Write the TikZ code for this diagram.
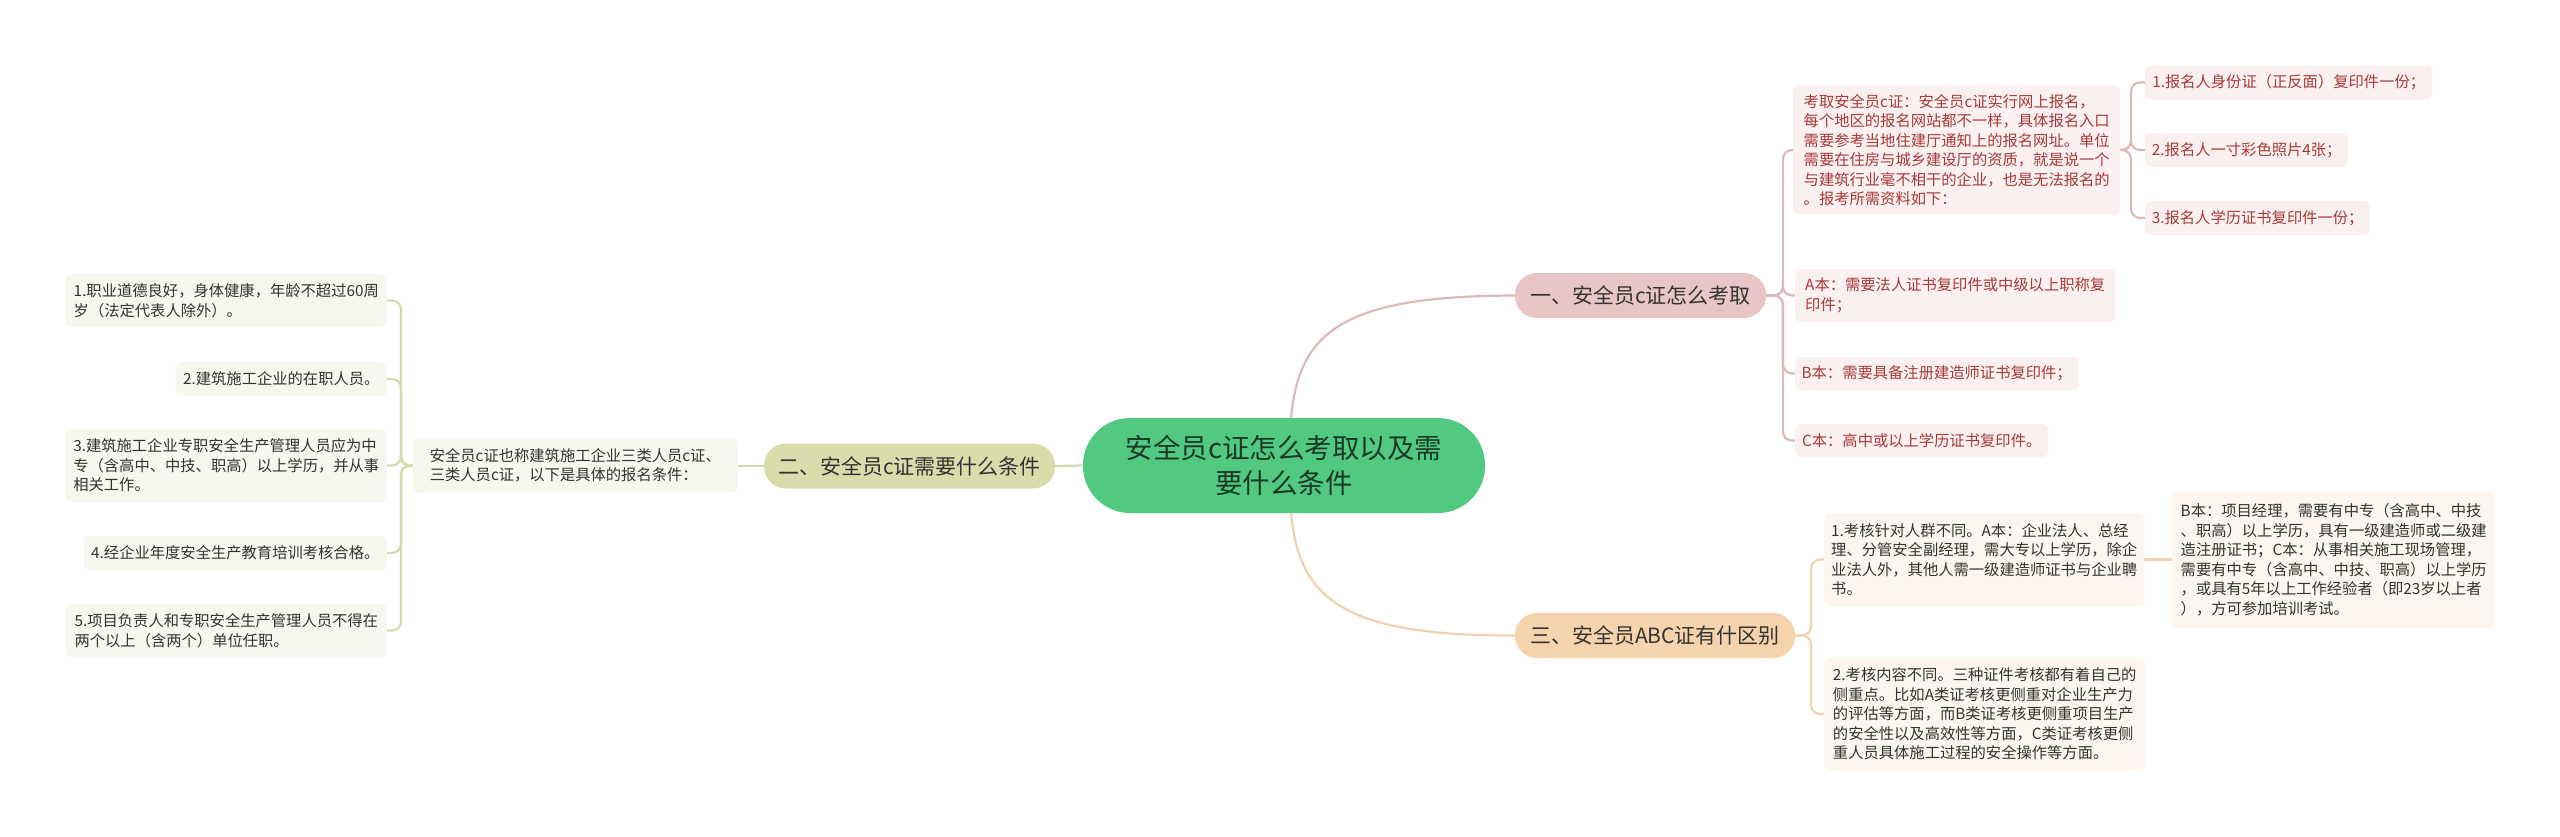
\documentclass[tikz,border=0pt]{standalone}
\usepackage{fontspec}
\newfontfamily\cjk{Noto Sans CJK SC}
\usetikzlibrary{backgrounds,calc}
\definecolor{rootbg}{HTML}{52C981}
\definecolor{roottx}{HTML}{1B3A26}
\definecolor{pinkbr}{HTML}{E9C5C5}
\definecolor{olivebr}{HTML}{D9DCAB}
\definecolor{peachbr}{HTML}{F5D3AD}
\definecolor{pinkbg}{HTML}{FAF0F0}
\definecolor{olivebg}{HTML}{F6F7EE}
\definecolor{peachbg}{HTML}{FDF6EE}
\definecolor{pinktx}{HTML}{A83A3A}
\definecolor{darktx}{HTML}{333333}
\definecolor{pinkln}{HTML}{DDB9BA}
\definecolor{oliveln}{HTML}{D7DAA9}
\definecolor{peachln}{HTML}{F2D2AD}
\begin{document}
\begin{tikzpicture}[x=1pt,y=-1pt,
  box/.style={rounded corners=6pt, inner xsep=6pt, inner ysep=2pt, align=left,
    font={\cjk\fontsize{15.3}{19.5}\selectfont}},
  pleaf/.style={box, fill=pinkbg, text=pinktx},
  oleaf/.style={box, fill=olivebg, text=darktx},
  eleaf/.style={box, fill=peachbg, text=darktx},
  branchbox/.style={rounded corners=22pt, minimum height=45pt, inner xsep=10pt,
    font={\cjk\fontsize{21}{26}\selectfont}, text=darktx},
  pline/.style={draw=pinkln, line width=2.2pt},
  oline/.style={draw=oliveln, line width=2.2pt},
  eline/.style={draw=peachln, line width=2.2pt},
]
\useasboundingbox (0,0) rectangle (2560,836);

% root
\node[fill=rootbg, text=roottx, rounded corners=47pt, minimum width=402pt, minimum height=95pt,
  align=center, font={\cjk\fontsize{27.5}{35}\selectfont}] (root) at (1284,465.5)
  {安全员c证怎么考取以及需\\要什么条件};

% branches
\node[branchbox, fill=pinkbr, minimum width=251pt] (b1) at (1640.5,295.5) {一、安全员c证怎么考取};
\node[branchbox, fill=olivebr, minimum width=291pt] (b2) at (909.5,466) {二、安全员c证需要什么条件};
\node[branchbox, fill=peachbr, minimum width=280pt] (b3) at (1655,635.5) {三、安全员ABC证有什区别};

% branch 1 children
\node[pleaf, anchor=west, minimum width=327pt, minimum height=129pt] (c1) at (1793,150)
  {考取安全员c证：安全员c证实行网上报名，\\每个地区的报名网站都不一样，具体报名入口\\需要参考当地住建厅通知上的报名网址。单位\\需要在住房与城乡建设厅的资质，就是说一个\\与建筑行业毫不相干的企业，也是无法报名的\\。报考所需资料如下：};
\node[pleaf, anchor=west, minimum width=287pt, minimum height=34pt] (i1) at (2145,82.5) {1.报名人身份证（正反面）复印件一份；};
\node[pleaf, anchor=west, minimum width=203pt, minimum height=34pt] (i2) at (2145,150) {2.报名人一寸彩色照片4张；};
\node[pleaf, anchor=west, minimum width=225pt, minimum height=34pt] (i3) at (2145,218) {3.报名人学历证书复印件一份；};
\node[pleaf, anchor=west, minimum width=320pt, minimum height=53pt] (ca) at (1795,295.5) {A本：需要法人证书复印件或中级以上职称复\\印件；};
\node[pleaf, anchor=west, minimum width=283pt, minimum height=33pt] (cb) at (1795,373.5) {B本：需要具备注册建造师证书复印件；};
\node[pleaf, anchor=west, minimum width=253pt, minimum height=33pt] (cc) at (1795,440.5) {C本：高中或以上学历证书复印件。};

% branch 3 children
\node[eleaf, anchor=west, minimum width=320pt, minimum height=93pt] (d1) at (1824,559.5)
  {1.考核针对人群不同。A本：企业法人、总经\\理、分管安全副经理，需大专以上学历，除企\\业法人外，其他人需一级建造师证书与企业聘\\书。};
\node[eleaf, anchor=west, minimum width=323pt, minimum height=136pt] (d1c) at (2172,560)
  {B本：项目经理，需要有中专（含高中、中技\\、职高）以上学历，具有一级建造师或二级建\\造注册证书；C本：从事相关施工现场管理，\\需要有中专（含高中、中技、职高）以上学历\\，或具有5年以上工作经验者（即23岁以上者\\），方可参加培训考试。};
\node[eleaf, anchor=west, minimum width=321pt, minimum height=112pt] (d2) at (1824,714)
  {2.考核内容不同。三种证件考核都有着自己的\\侧重点。比如A类证考核更侧重对企业生产力\\的评估等方面，而B类证考核更侧重项目生产\\的安全性以及高效性等方面，C类证考核更侧\\重人员具体施工过程的安全操作等方面。};

% branch 2 children
\node[oleaf, anchor=east, minimum width=325pt, minimum height=54pt] (e0) at (738,465.5)
  {安全员c证也称建筑施工企业三类人员c证、\\三类人员c证，以下是具体的报名条件：};
\node[oleaf, anchor=east, minimum width=321pt, minimum height=53pt] (l1) at (387,300.5)
  {1.职业道德良好，身体健康，年龄不超过60周\\岁（法定代表人除外）。};
\node[oleaf, anchor=east, minimum width=211pt, minimum height=34pt] (l2) at (387,379) {2.建筑施工企业的在职人员。};
\node[oleaf, anchor=east, minimum width=321pt, minimum height=73pt] (l3) at (387,465.5)
  {3.建筑施工企业专职安全生产管理人员应为中\\专（含高中、中技、职高）以上学历，并从事\\相关工作。};
\node[oleaf, anchor=east, minimum width=303pt, minimum height=34pt] (l4) at (387,553) {4.经企业年度安全生产教育培训考核合格。};
\node[oleaf, anchor=east, minimum width=321pt, minimum height=53pt] (l5) at (387,630.5)
  {5.项目负责人和专职安全生产管理人员不得在\\两个以上（含两个）单位任职。};

% bracket coordinates
\coordinate (k1) at (1783,296);
\coordinate (k2) at (2131,150);
\coordinate (k3) at (1811,636);
\coordinate (k4) at (401,466);

\begin{scope}[on background layer]
\fill[white] (0,0) rectangle (2560,836);
% root connectors
\draw[pline] ($(root.north)+(7,2)$) .. controls (1298,330) and (1345,296) .. (b1.west);
\draw[eline] ($(root.south)+(7,-2)$) .. controls (1298,600) and (1345,636) .. (b3.west);
\draw[oline] (root.west) -- (b2.east);
% branch 1
\draw[pline, rounded corners=9pt] (b1.east) -- (k1 |- b1.east) |- (c1.west);
\draw[pline, rounded corners=9pt] (b1.east) -- (k1 |- b1.east) |- (ca.west);
\draw[pline, rounded corners=9pt] (b1.east) -- (k1 |- b1.east) |- (cb.west);
\draw[pline, rounded corners=9pt] (b1.east) -- (k1 |- b1.east) |- (cc.west);
\draw[pline, rounded corners=9pt] (c1.east) -- (k2 |- c1.east) |- (i1.west);
\draw[pline, rounded corners=9pt] (c1.east) -- (k2 |- c1.east) |- (i2.west);
\draw[pline, rounded corners=9pt] (c1.east) -- (k2 |- c1.east) |- (i3.west);
% branch 3
\draw[eline, rounded corners=9pt] (b3.east) -- (k3 |- b3.east) |- (d1.west);
\draw[eline, rounded corners=9pt] (b3.east) -- (k3 |- b3.east) |- (d2.west);
\draw[eline] (d1.east) -- (d1c.west |- d1.east);
% branch 2
\draw[oline] (b2.west) -- (e0.east |- b2.west);
\draw[oline, rounded corners=9pt] (e0.west) -- (k4 |- e0.west) |- (l1.east);
\draw[oline, rounded corners=9pt] (e0.west) -- (k4 |- e0.west) |- (l2.east);
\draw[oline, rounded corners=9pt] (e0.west) -- (k4 |- e0.west) |- (l3.east);
\draw[oline, rounded corners=9pt] (e0.west) -- (k4 |- e0.west) |- (l4.east);
\draw[oline, rounded corners=9pt] (e0.west) -- (k4 |- e0.west) |- (l5.east);
\end{scope}
\end{tikzpicture}
\end{document}
